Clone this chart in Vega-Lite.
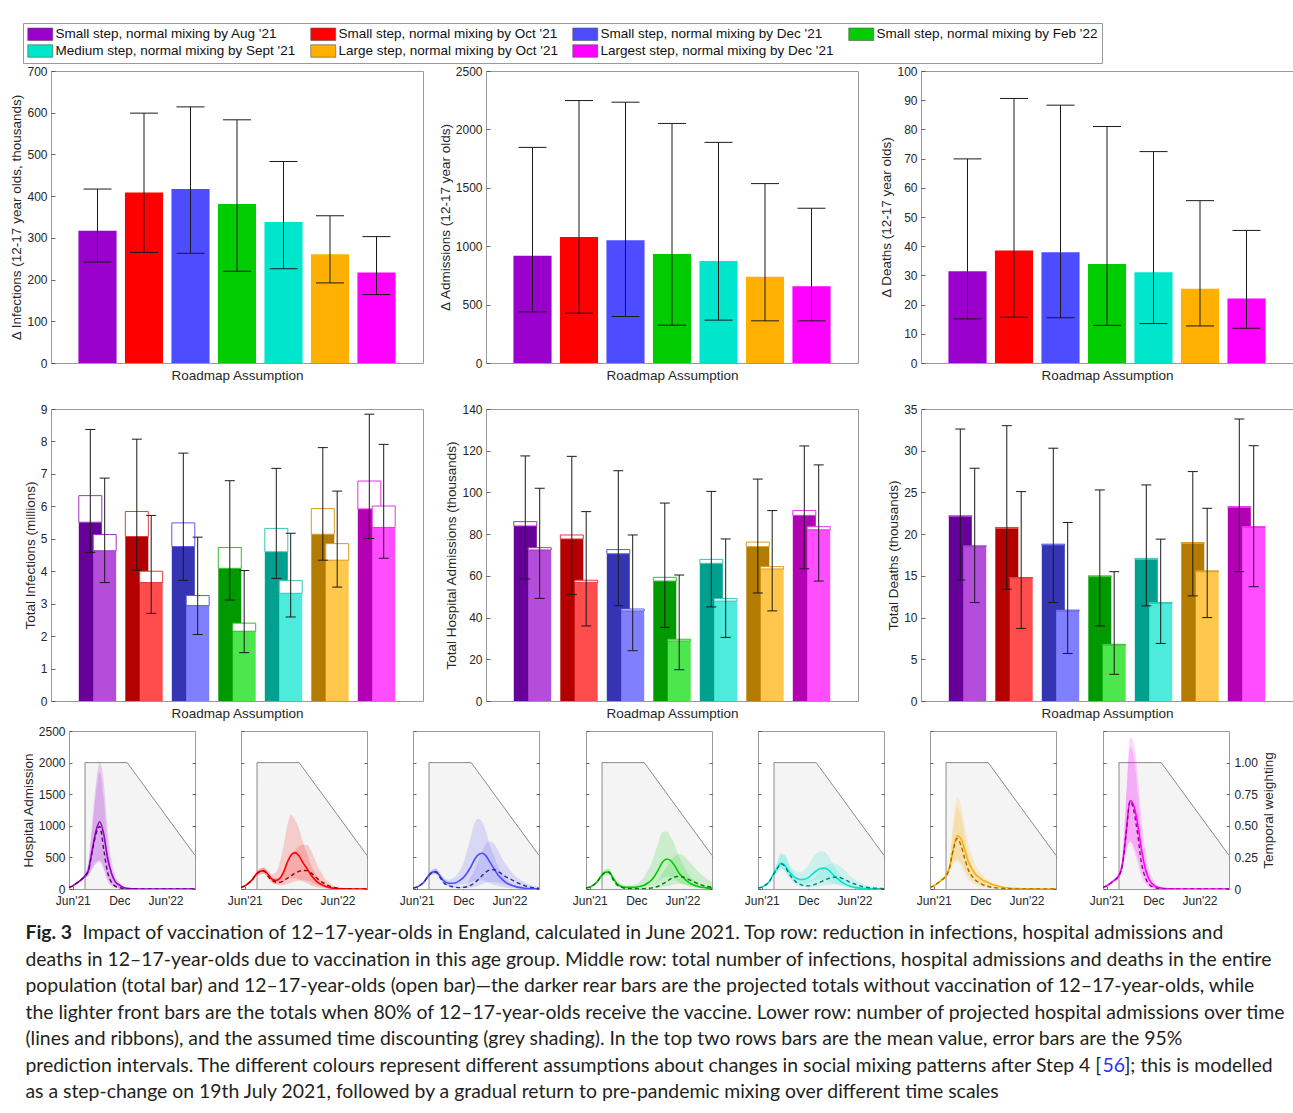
{
"$schema": "https://vega.github.io/schema/vega-lite/v6.json",
"padding": {"left": 9, "top": 22, "right": 0, "bottom": 0},
"background": "white",
"spacing": 0,
"config": {
  "font": "Liberation Sans",
  "view": {"stroke": "#9a9a9a", "strokeWidth": 1},
  "axis": {"domain": false, "grid": false, "ticks": true, "tickSize": -4, "tickColor": "#444444", "tickWidth": 0.8, "labelPadding": 8, "labelOverlap": false, "labelBound": false, "minExtent": 0, "titlePadding": 3, "labelFont": "Liberation Sans", "labelFontSize": 12, "labelColor": "#262626", "titleFont": "Liberation Sans", "titleFontSize": 13.5, "titleFontWeight": "normal", "titleColor": "#262626"}
},
"resolve": {"scale": {"color": "independent", "stroke": "independent", "fill": "independent"}},
"datasets": {
  "top": [
    {"metric":"inf","scn":"Small step, normal mixing by Aug '21","m":317,"lo":242,"hi":417},
    {"metric":"inf","scn":"Small step, normal mixing by Oct '21","m":409,"lo":265,"hi":599},
    {"metric":"inf","scn":"Small step, normal mixing by Dec '21","m":417,"lo":263,"hi":614},
    {"metric":"inf","scn":"Small step, normal mixing by Feb '22","m":381,"lo":220,"hi":583},
    {"metric":"inf","scn":"Medium step, normal mixing by Sept '21","m":338,"lo":226,"hi":483},
    {"metric":"inf","scn":"Large step, normal mixing by Oct '21","m":261,"lo":192,"hi":353},
    {"metric":"inf","scn":"Largest step, normal mixing by Dec '21","m":217,"lo":164,"hi":303},
    {"metric":"adm","scn":"Small step, normal mixing by Aug '21","m":919,"lo":438,"hi":1846},
    {"metric":"adm","scn":"Small step, normal mixing by Oct '21","m":1078,"lo":427,"hi":2247},
    {"metric":"adm","scn":"Small step, normal mixing by Dec '21","m":1052,"lo":398,"hi":2233},
    {"metric":"adm","scn":"Small step, normal mixing by Feb '22","m":933,"lo":324,"hi":2051},
    {"metric":"adm","scn":"Medium step, normal mixing by Sept '21","m":873,"lo":367,"hi":1889},
    {"metric":"adm","scn":"Large step, normal mixing by Oct '21","m":739,"lo":361,"hi":1536},
    {"metric":"adm","scn":"Largest step, normal mixing by Dec '21","m":657,"lo":361,"hi":1325},
    {"metric":"dth","scn":"Small step, normal mixing by Aug '21","m":31.4,"lo":15.1,"hi":69.9},
    {"metric":"dth","scn":"Small step, normal mixing by Oct '21","m":38.5,"lo":15.7,"hi":90.6},
    {"metric":"dth","scn":"Small step, normal mixing by Dec '21","m":37.9,"lo":15.5,"hi":88.3},
    {"metric":"dth","scn":"Small step, normal mixing by Feb '22","m":33.9,"lo":12.9,"hi":81.0},
    {"metric":"dth","scn":"Medium step, normal mixing by Sept '21","m":31.1,"lo":13.5,"hi":72.4},
    {"metric":"dth","scn":"Large step, normal mixing by Oct '21","m":25.4,"lo":12.7,"hi":55.6},
    {"metric":"dth","scn":"Largest step, normal mixing by Dec '21","m":22.1,"lo":11.9,"hi":45.4}
  ],
  "mid": [
    {"metric":"inf","ver":"without","scn":"Small step, normal mixing by Aug '21","m":5.51,"o":6.33,"lo":4.58,"hi":8.37},
    {"metric":"inf","ver":"with","scn":"Small step, normal mixing by Aug '21","m":4.63,"o":5.13,"lo":3.65,"hi":6.87},
    {"metric":"inf","ver":"without","scn":"Small step, normal mixing by Oct '21","m":5.07,"o":5.84,"lo":4.03,"hi":8.07},
    {"metric":"inf","ver":"with","scn":"Small step, normal mixing by Oct '21","m":3.65,"o":4.00,"lo":2.70,"hi":5.72},
    {"metric":"inf","ver":"without","scn":"Small step, normal mixing by Dec '21","m":4.76,"o":5.49,"lo":3.72,"hi":7.64},
    {"metric":"inf","ver":"with","scn":"Small step, normal mixing by Dec '21","m":2.94,"o":3.25,"lo":2.05,"hi":5.05},
    {"metric":"inf","ver":"without","scn":"Small step, normal mixing by Feb '22","m":4.09,"o":4.73,"lo":3.11,"hi":6.79},
    {"metric":"inf","ver":"with","scn":"Small step, normal mixing by Feb '22","m":2.15,"o":2.40,"lo":1.49,"hi":4.02},
    {"metric":"inf","ver":"without","scn":"Medium step, normal mixing by Sept '21","m":4.60,"o":5.32,"lo":3.78,"hi":7.17},
    {"metric":"inf","ver":"with","scn":"Medium step, normal mixing by Sept '21","m":3.32,"o":3.71,"lo":2.59,"hi":5.17},
    {"metric":"inf","ver":"without","scn":"Large step, normal mixing by Oct '21","m":5.14,"o":5.93,"lo":4.34,"hi":7.81},
    {"metric":"inf","ver":"with","scn":"Large step, normal mixing by Oct '21","m":4.34,"o":4.85,"lo":3.51,"hi":6.47},
    {"metric":"inf","ver":"without","scn":"Largest step, normal mixing by Dec '21","m":5.92,"o":6.78,"lo":5.01,"hi":8.84},
    {"metric":"inf","ver":"with","scn":"Largest step, normal mixing by Dec '21","m":5.35,"o":6.01,"lo":4.40,"hi":7.91},
    {"metric":"adm","ver":"without","scn":"Small step, normal mixing by Aug '21","m":83.9,"o":86.0,"lo":58.5,"hi":117.5},
    {"metric":"adm","ver":"with","scn":"Small step, normal mixing by Aug '21","m":72.4,"o":73.5,"lo":49.2,"hi":102.0},
    {"metric":"adm","ver":"without","scn":"Small step, normal mixing by Oct '21","m":77.7,"o":79.6,"lo":51.0,"hi":117.3},
    {"metric":"adm","ver":"with","scn":"Small step, normal mixing by Oct '21","m":56.9,"o":57.9,"lo":36.0,"hi":90.8},
    {"metric":"adm","ver":"without","scn":"Small step, normal mixing by Dec '21","m":70.6,"o":72.6,"lo":45.7,"hi":110.4},
    {"metric":"adm","ver":"with","scn":"Small step, normal mixing by Dec '21","m":43.2,"o":44.1,"lo":24.1,"hi":79.6},
    {"metric":"adm","ver":"without","scn":"Small step, normal mixing by Feb '22","m":57.5,"o":59.3,"lo":35.3,"hi":94.9},
    {"metric":"adm","ver":"with","scn":"Small step, normal mixing by Feb '22","m":28.8,"o":29.6,"lo":15.0,"hi":60.4},
    {"metric":"adm","ver":"without","scn":"Medium step, normal mixing by Sept '21","m":66.0,"o":67.9,"lo":45.1,"hi":100.5},
    {"metric":"adm","ver":"with","scn":"Medium step, normal mixing by Sept '21","m":47.9,"o":49.1,"lo":30.5,"hi":77.7},
    {"metric":"adm","ver":"without","scn":"Large step, normal mixing by Oct '21","m":74.0,"o":76.2,"lo":51.8,"hi":106.4},
    {"metric":"adm","ver":"with","scn":"Large step, normal mixing by Oct '21","m":63.3,"o":64.4,"lo":43.2,"hi":91.3},
    {"metric":"adm","ver":"without","scn":"Largest step, normal mixing by Dec '21","m":89.0,"o":91.3,"lo":63.4,"hi":122.3},
    {"metric":"adm","ver":"with","scn":"Largest step, normal mixing by Dec '21","m":82.1,"o":83.6,"lo":57.5,"hi":113.2},
    {"metric":"dth","ver":"without","scn":"Small step, normal mixing by Aug '21","m":22.1,"o":22.2,"lo":14.5,"hi":32.6},
    {"metric":"dth","ver":"with","scn":"Small step, normal mixing by Aug '21","m":18.5,"o":18.6,"lo":11.8,"hi":27.9},
    {"metric":"dth","ver":"without","scn":"Small step, normal mixing by Oct '21","m":20.7,"o":20.8,"lo":13.4,"hi":33.0},
    {"metric":"dth","ver":"with","scn":"Small step, normal mixing by Oct '21","m":14.7,"o":14.8,"lo":8.7,"hi":25.1},
    {"metric":"dth","ver":"without","scn":"Small step, normal mixing by Dec '21","m":18.7,"o":18.8,"lo":11.8,"hi":30.3},
    {"metric":"dth","ver":"with","scn":"Small step, normal mixing by Dec '21","m":10.8,"o":10.9,"lo":5.7,"hi":21.4},
    {"metric":"dth","ver":"without","scn":"Small step, normal mixing by Feb '22","m":14.9,"o":15.0,"lo":9.0,"hi":25.3},
    {"metric":"dth","ver":"with","scn":"Small step, normal mixing by Feb '22","m":6.7,"o":6.8,"lo":3.2,"hi":15.5},
    {"metric":"dth","ver":"without","scn":"Medium step, normal mixing by Sept '21","m":17.0,"o":17.1,"lo":11.4,"hi":25.9},
    {"metric":"dth","ver":"with","scn":"Medium step, normal mixing by Sept '21","m":11.7,"o":11.8,"lo":6.9,"hi":19.4},
    {"metric":"dth","ver":"without","scn":"Large step, normal mixing by Oct '21","m":18.9,"o":19.0,"lo":12.6,"hi":27.5},
    {"metric":"dth","ver":"with","scn":"Large step, normal mixing by Oct '21","m":15.5,"o":15.6,"lo":10.0,"hi":23.1},
    {"metric":"dth","ver":"without","scn":"Largest step, normal mixing by Dec '21","m":23.2,"o":23.3,"lo":15.5,"hi":33.8},
    {"metric":"dth","ver":"with","scn":"Largest step, normal mixing by Dec '21","m":20.8,"o":20.9,"lo":13.7,"hi":30.6}
  ],
  "wt": [
    {"k":1,"t":"2021-07-19","w":0},
    {"k":2,"t":"2021-07-19","w":1},
    {"k":3,"t":"2022-01-01","w":1},
    {"k":4,"t":"2022-09-25","w":0.266}
  ],
  "ts": [
    {"p":1,"t":"2021-05-17","s":27,"d":27,"sl":22,"sh":32,"dl":22,"dh":32},
    {"p":1,"t":"2021-06-01","s":50,"d":50,"sl":42,"sh":58,"dl":42,"dh":58},
    {"p":1,"t":"2021-06-15","s":90,"d":90,"sl":78,"sh":102,"dl":78,"dh":102},
    {"p":1,"t":"2021-07-01","s":135,"d":135,"sl":118,"sh":152,"dl":118,"dh":152},
    {"p":1,"t":"2021-07-15","s":190,"d":188,"sl":165,"sh":215,"dl":165,"dh":212},
    {"p":1,"t":"2021-08-01","s":290,"d":285,"sl":210,"sh":420,"dl":205,"dh":400},
    {"p":1,"t":"2021-08-15","s":585,"d":560,"sl":330,"sh":1000,"dl":300,"dh":900},
    {"p":1,"t":"2021-09-01","s":930,"d":880,"sl":430,"sh":1700,"dl":400,"dh":1550},
    {"p":1,"t":"2021-09-15","s":1065,"d":990,"sl":450,"sh":2000,"dl":430,"dh":1850},
    {"p":1,"t":"2021-10-01","s":860,"d":620,"sl":350,"sh":1700,"dl":300,"dh":1400},
    {"p":1,"t":"2021-10-15","s":510,"d":280,"sl":180,"sh":1000,"dl":130,"dh":700},
    {"p":1,"t":"2021-11-01","s":240,"d":100,"sl":70,"sh":450,"dl":40,"dh":280},
    {"p":1,"t":"2021-11-15","s":117,"d":45,"sl":30,"sh":220,"dl":18,"dh":120},
    {"p":1,"t":"2021-12-01","s":64,"d":22,"sl":15,"sh":110,"dl":8,"dh":60},
    {"p":1,"t":"2021-12-15","s":27,"d":9,"sl":5,"sh":50,"dl":3,"dh":25},
    {"p":1,"t":"2022-01-01","s":10,"d":4,"sl":2,"sh":20,"dl":1,"dh":10},
    {"p":1,"t":"2022-01-15","s":5,"d":2,"sl":1,"sh":10,"dl":0,"dh":5},
    {"p":1,"t":"2022-02-01","s":3,"d":1,"sl":0,"sh":6,"dl":0,"dh":3},
    {"p":1,"t":"2022-02-15","s":1,"d":0,"sl":0,"sh":3,"dl":0,"dh":1},
    {"p":1,"t":"2022-03-01","s":0,"d":0,"sl":0,"sh":1,"dl":0,"dh":0},
    {"p":1,"t":"2022-03-15","s":0,"d":0,"sl":0,"sh":0,"dl":0,"dh":0},
    {"p":1,"t":"2022-04-01","s":0,"d":0,"sl":0,"sh":0,"dl":0,"dh":0},
    {"p":1,"t":"2022-04-15","s":0,"d":0,"sl":0,"sh":0,"dl":0,"dh":0},
    {"p":1,"t":"2022-05-01","s":0,"d":0,"sl":0,"sh":0,"dl":0,"dh":0},
    {"p":1,"t":"2022-05-15","s":0,"d":0,"sl":0,"sh":0,"dl":0,"dh":0},
    {"p":1,"t":"2022-06-01","s":0,"d":0,"sl":0,"sh":0,"dl":0,"dh":0},
    {"p":1,"t":"2022-07-01","s":0,"d":0,"sl":0,"sh":0,"dl":0,"dh":0},
    {"p":1,"t":"2022-08-01","s":0,"d":0,"sl":0,"sh":0,"dl":0,"dh":0},
    {"p":1,"t":"2022-09-01","s":0,"d":0,"sl":0,"sh":0,"dl":0,"dh":0},
    {"p":1,"t":"2022-09-25","s":0,"d":0,"sl":0,"sh":0,"dl":0,"dh":0},
    {"p":2,"t":"2021-05-17","s":27,"d":27,"sl":22,"sh":32,"dl":22,"dh":32},
    {"p":2,"t":"2021-06-01","s":50,"d":50,"sl":42,"sh":58,"dl":42,"dh":58},
    {"p":2,"t":"2021-06-15","s":90,"d":90,"sl":75,"sh":105,"dl":75,"dh":105},
    {"p":2,"t":"2021-07-01","s":150,"d":150,"sl":125,"sh":175,"dl":125,"dh":175},
    {"p":2,"t":"2021-07-15","s":230,"d":228,"sl":195,"sh":265,"dl":195,"dh":262},
    {"p":2,"t":"2021-08-01","s":280,"d":278,"sl":235,"sh":330,"dl":235,"dh":325},
    {"p":2,"t":"2021-08-15","s":290,"d":285,"sl":240,"sh":345,"dl":238,"dh":340},
    {"p":2,"t":"2021-09-01","s":230,"d":200,"sl":180,"sh":290,"dl":160,"dh":250},
    {"p":2,"t":"2021-09-15","s":160,"d":140,"sl":110,"sh":230,"dl":100,"dh":190},
    {"p":2,"t":"2021-10-01","s":135,"d":110,"sl":80,"sh":260,"dl":70,"dh":170},
    {"p":2,"t":"2021-10-15","s":160,"d":105,"sl":80,"sh":400,"dl":60,"dh":180},
    {"p":2,"t":"2021-11-01","s":270,"d":130,"sl":110,"sh":700,"dl":60,"dh":300},
    {"p":2,"t":"2021-11-15","s":420,"d":170,"sl":150,"sh":1000,"dl":80,"dh":400},
    {"p":2,"t":"2021-12-01","s":540,"d":210,"sl":170,"sh":1180,"dl":100,"dh":500},
    {"p":2,"t":"2021-12-15","s":575,"d":250,"sl":170,"sh":1100,"dl":120,"dh":600},
    {"p":2,"t":"2022-01-01","s":520,"d":280,"sl":150,"sh":950,"dl":130,"dh":680},
    {"p":2,"t":"2022-01-15","s":420,"d":293,"sl":120,"sh":750,"dl":140,"dh":700},
    {"p":2,"t":"2022-02-01","s":320,"d":290,"sl":90,"sh":560,"dl":130,"dh":700},
    {"p":2,"t":"2022-02-15","s":230,"d":260,"sl":60,"sh":400,"dl":110,"dh":620},
    {"p":2,"t":"2022-03-01","s":160,"d":210,"sl":40,"sh":280,"dl":80,"dh":500},
    {"p":2,"t":"2022-03-15","s":105,"d":160,"sl":25,"sh":180,"dl":55,"dh":360},
    {"p":2,"t":"2022-04-01","s":65,"d":110,"sl":15,"sh":120,"dl":35,"dh":240},
    {"p":2,"t":"2022-04-15","s":40,"d":75,"sl":8,"sh":70,"dl":20,"dh":150},
    {"p":2,"t":"2022-05-01","s":22,"d":45,"sl":4,"sh":40,"dl":10,"dh":90},
    {"p":2,"t":"2022-05-15","s":12,"d":28,"sl":2,"sh":20,"dl":5,"dh":50},
    {"p":2,"t":"2022-06-01","s":6,"d":16,"sl":1,"sh":10,"dl":3,"dh":25},
    {"p":2,"t":"2022-07-01","s":2,"d":5,"sl":0,"sh":4,"dl":1,"dh":9},
    {"p":2,"t":"2022-08-01","s":1,"d":2,"sl":0,"sh":2,"dl":0,"dh":4},
    {"p":2,"t":"2022-09-01","s":0,"d":1,"sl":0,"sh":1,"dl":0,"dh":2},
    {"p":2,"t":"2022-09-25","s":0,"d":0,"sl":0,"sh":0,"dl":0,"dh":1},
    {"p":3,"t":"2021-05-17","s":16,"d":16,"sl":13,"sh":19,"dl":13,"dh":19},
    {"p":3,"t":"2021-06-01","s":30,"d":30,"sl":25,"sh":35,"dl":25,"dh":35},
    {"p":3,"t":"2021-06-15","s":60,"d":60,"sl":50,"sh":70,"dl":50,"dh":70},
    {"p":3,"t":"2021-07-01","s":120,"d":120,"sl":100,"sh":140,"dl":100,"dh":140},
    {"p":3,"t":"2021-07-15","s":200,"d":200,"sl":170,"sh":230,"dl":170,"dh":230},
    {"p":3,"t":"2021-08-01","s":265,"d":262,"sl":230,"sh":310,"dl":228,"dh":305},
    {"p":3,"t":"2021-08-15","s":275,"d":270,"sl":240,"sh":330,"dl":235,"dh":320},
    {"p":3,"t":"2021-09-01","s":200,"d":180,"sl":170,"sh":250,"dl":150,"dh":220},
    {"p":3,"t":"2021-09-15","s":130,"d":100,"sl":100,"sh":180,"dl":75,"dh":140},
    {"p":3,"t":"2021-10-01","s":95,"d":60,"sl":60,"sh":150,"dl":40,"dh":90},
    {"p":3,"t":"2021-10-15","s":90,"d":40,"sl":50,"sh":160,"dl":25,"dh":65},
    {"p":3,"t":"2021-11-01","s":100,"d":28,"sl":50,"sh":200,"dl":15,"dh":50},
    {"p":3,"t":"2021-11-15","s":130,"d":22,"sl":60,"sh":280,"dl":10,"dh":45},
    {"p":3,"t":"2021-12-01","s":180,"d":25,"sl":70,"sh":400,"dl":12,"dh":55},
    {"p":3,"t":"2021-12-15","s":250,"d":35,"sl":90,"sh":600,"dl":15,"dh":90},
    {"p":3,"t":"2022-01-01","s":360,"d":60,"sl":110,"sh":850,"dl":20,"dh":200},
    {"p":3,"t":"2022-01-15","s":470,"d":100,"sl":130,"sh":1050,"dl":35,"dh":320},
    {"p":3,"t":"2022-02-01","s":550,"d":160,"sl":140,"sh":1110,"dl":60,"dh":480},
    {"p":3,"t":"2022-02-15","s":565,"d":220,"sl":140,"sh":1050,"dl":80,"dh":620},
    {"p":3,"t":"2022-03-01","s":520,"d":270,"sl":120,"sh":900,"dl":100,"dh":720},
    {"p":3,"t":"2022-03-15","s":430,"d":300,"sl":90,"sh":700,"dl":110,"dh":750},
    {"p":3,"t":"2022-04-01","s":320,"d":305,"sl":70,"sh":520,"dl":110,"dh":720},
    {"p":3,"t":"2022-04-15","s":230,"d":280,"sl":50,"sh":380,"dl":100,"dh":620},
    {"p":3,"t":"2022-05-01","s":160,"d":240,"sl":35,"sh":260,"dl":85,"dh":500},
    {"p":3,"t":"2022-05-15","s":110,"d":200,"sl":22,"sh":170,"dl":70,"dh":400},
    {"p":3,"t":"2022-06-01","s":70,"d":165,"sl":14,"sh":110,"dl":55,"dh":310},
    {"p":3,"t":"2022-07-01","s":30,"d":100,"sl":5,"sh":50,"dl":30,"dh":180},
    {"p":3,"t":"2022-08-01","s":12,"d":50,"sl":2,"sh":20,"dl":15,"dh":100},
    {"p":3,"t":"2022-09-01","s":5,"d":22,"sl":1,"sh":8,"dl":7,"dh":55},
    {"p":3,"t":"2022-09-25","s":3,"d":12,"sl":0,"sh":5,"dl":4,"dh":35},
    {"p":4,"t":"2021-05-17","s":16,"d":16,"sl":13,"sh":19,"dl":13,"dh":19},
    {"p":4,"t":"2021-06-01","s":30,"d":30,"sl":25,"sh":35,"dl":25,"dh":35},
    {"p":4,"t":"2021-06-15","s":60,"d":60,"sl":50,"sh":70,"dl":50,"dh":70},
    {"p":4,"t":"2021-07-01","s":120,"d":120,"sl":100,"sh":140,"dl":100,"dh":140},
    {"p":4,"t":"2021-07-15","s":200,"d":200,"sl":170,"sh":230,"dl":170,"dh":230},
    {"p":4,"t":"2021-08-01","s":265,"d":262,"sl":230,"sh":310,"dl":228,"dh":305},
    {"p":4,"t":"2021-08-15","s":270,"d":265,"sl":230,"sh":320,"dl":225,"dh":315},
    {"p":4,"t":"2021-09-01","s":170,"d":150,"sl":130,"sh":210,"dl":115,"dh":190},
    {"p":4,"t":"2021-09-15","s":90,"d":70,"sl":60,"sh":130,"dl":45,"dh":110},
    {"p":4,"t":"2021-10-01","s":45,"d":30,"sl":25,"sh":80,"dl":15,"dh":55},
    {"p":4,"t":"2021-10-15","s":30,"d":12,"sl":15,"sh":60,"dl":5,"dh":30},
    {"p":4,"t":"2021-11-01","s":25,"d":5,"sl":12,"sh":55,"dl":2,"dh":18},
    {"p":4,"t":"2021-11-15","s":25,"d":3,"sl":12,"sh":60,"dl":1,"dh":12},
    {"p":4,"t":"2021-12-01","s":30,"d":3,"sl":14,"sh":80,"dl":1,"dh":12},
    {"p":4,"t":"2021-12-15","s":40,"d":4,"sl":18,"sh":120,"dl":1,"dh":15},
    {"p":4,"t":"2022-01-01","s":60,"d":6,"sl":25,"sh":190,"dl":2,"dh":22},
    {"p":4,"t":"2022-01-15","s":95,"d":10,"sl":40,"sh":290,"dl":3,"dh":35},
    {"p":4,"t":"2022-02-01","s":150,"d":18,"sl":60,"sh":430,"dl":5,"dh":60},
    {"p":4,"t":"2022-02-15","s":230,"d":30,"sl":90,"sh":600,"dl":10,"dh":100},
    {"p":4,"t":"2022-03-01","s":330,"d":50,"sl":130,"sh":780,"dl":18,"dh":170},
    {"p":4,"t":"2022-03-15","s":430,"d":80,"sl":170,"sh":900,"dl":30,"dh":260},
    {"p":4,"t":"2022-04-01","s":475,"d":120,"sl":190,"sh":910,"dl":45,"dh":360},
    {"p":4,"t":"2022-04-15","s":450,"d":160,"sl":180,"sh":830,"dl":60,"dh":450},
    {"p":4,"t":"2022-05-01","s":370,"d":190,"sl":150,"sh":700,"dl":75,"dh":520},
    {"p":4,"t":"2022-05-15","s":270,"d":200,"sl":110,"sh":550,"dl":80,"dh":555},
    {"p":4,"t":"2022-06-01","s":190,"d":190,"sl":80,"sh":400,"dl":75,"dh":540},
    {"p":4,"t":"2022-07-01","s":90,"d":140,"sl":35,"sh":200,"dl":55,"dh":420},
    {"p":4,"t":"2022-08-01","s":40,"d":85,"sl":15,"sh":100,"dl":33,"dh":280},
    {"p":4,"t":"2022-09-01","s":18,"d":45,"sl":6,"sh":50,"dl":18,"dh":170},
    {"p":4,"t":"2022-09-25","s":10,"d":25,"sl":3,"sh":30,"dl":10,"dh":110},
    {"p":5,"t":"2021-05-17","s":16,"d":16,"sl":13,"sh":19,"dl":13,"dh":19},
    {"p":5,"t":"2021-06-01","s":30,"d":30,"sl":25,"sh":35,"dl":25,"dh":35},
    {"p":5,"t":"2021-06-15","s":60,"d":60,"sl":50,"sh":70,"dl":50,"dh":70},
    {"p":5,"t":"2021-07-01","s":120,"d":120,"sl":100,"sh":140,"dl":100,"dh":140},
    {"p":5,"t":"2021-07-15","s":220,"d":218,"sl":190,"sh":260,"dl":188,"dh":258},
    {"p":5,"t":"2021-08-01","s":330,"d":325,"sl":270,"sh":420,"dl":265,"dh":415},
    {"p":5,"t":"2021-08-15","s":405,"d":400,"sl":320,"sh":560,"dl":315,"dh":550},
    {"p":5,"t":"2021-09-01","s":370,"d":350,"sl":280,"sh":540,"dl":265,"dh":520},
    {"p":5,"t":"2021-09-15","s":280,"d":250,"sl":200,"sh":420,"dl":180,"dh":380},
    {"p":5,"t":"2021-10-01","s":210,"d":165,"sl":140,"sh":320,"dl":110,"dh":270},
    {"p":5,"t":"2021-10-15","s":170,"d":105,"sl":105,"sh":280,"dl":65,"dh":190},
    {"p":5,"t":"2021-11-01","s":150,"d":70,"sl":85,"sh":270,"dl":40,"dh":150},
    {"p":5,"t":"2021-11-15","s":155,"d":55,"sl":85,"sh":300,"dl":30,"dh":140},
    {"p":5,"t":"2021-12-01","s":180,"d":50,"sl":95,"sh":370,"dl":25,"dh":145},
    {"p":5,"t":"2021-12-15","s":230,"d":60,"sl":115,"sh":470,"dl":25,"dh":150},
    {"p":5,"t":"2022-01-01","s":285,"d":80,"sl":135,"sh":560,"dl":35,"dh":210},
    {"p":5,"t":"2022-01-15","s":320,"d":105,"sl":145,"sh":595,"dl":45,"dh":280},
    {"p":5,"t":"2022-02-01","s":330,"d":135,"sl":145,"sh":590,"dl":55,"dh":340},
    {"p":5,"t":"2022-02-15","s":310,"d":160,"sl":130,"sh":540,"dl":65,"dh":380},
    {"p":5,"t":"2022-03-01","s":260,"d":178,"sl":105,"sh":450,"dl":70,"dh":400},
    {"p":5,"t":"2022-03-15","s":200,"d":186,"sl":80,"sh":350,"dl":72,"dh":400},
    {"p":5,"t":"2022-04-01","s":145,"d":183,"sl":55,"sh":260,"dl":70,"dh":380},
    {"p":5,"t":"2022-04-15","s":100,"d":165,"sl":38,"sh":180,"dl":62,"dh":330},
    {"p":5,"t":"2022-05-01","s":65,"d":135,"sl":24,"sh":120,"dl":50,"dh":270},
    {"p":5,"t":"2022-05-15","s":42,"d":105,"sl":15,"sh":80,"dl":40,"dh":210},
    {"p":5,"t":"2022-06-01","s":26,"d":80,"sl":9,"sh":50,"dl":30,"dh":160},
    {"p":5,"t":"2022-07-01","s":10,"d":40,"sl":3,"sh":20,"dl":15,"dh":85},
    {"p":5,"t":"2022-08-01","s":4,"d":20,"sl":1,"sh":8,"dl":7,"dh":45},
    {"p":5,"t":"2022-09-01","s":2,"d":10,"sl":0,"sh":4,"dl":3,"dh":22},
    {"p":5,"t":"2022-09-25","s":1,"d":6,"sl":0,"sh":2,"dl":2,"dh":14},
    {"p":6,"t":"2021-05-17","s":27,"d":27,"sl":22,"sh":32,"dl":22,"dh":32},
    {"p":6,"t":"2021-06-01","s":50,"d":50,"sl":42,"sh":58,"dl":42,"dh":58},
    {"p":6,"t":"2021-06-15","s":90,"d":90,"sl":75,"sh":105,"dl":75,"dh":105},
    {"p":6,"t":"2021-07-01","s":140,"d":140,"sl":118,"sh":162,"dl":118,"dh":162},
    {"p":6,"t":"2021-07-15","s":190,"d":188,"sl":160,"sh":220,"dl":160,"dh":218},
    {"p":6,"t":"2021-08-01","s":330,"d":320,"sl":270,"sh":420,"dl":265,"dh":410},
    {"p":6,"t":"2021-08-15","s":600,"d":590,"sl":420,"sh":1000,"dl":400,"dh":900},
    {"p":6,"t":"2021-09-01","s":840,"d":800,"sl":470,"sh":1450,"dl":440,"dh":1300},
    {"p":6,"t":"2021-09-15","s":800,"d":700,"sl":420,"sh":1350,"dl":380,"dh":1150},
    {"p":6,"t":"2021-10-01","s":620,"d":480,"sl":300,"sh":1000,"dl":250,"dh":800},
    {"p":6,"t":"2021-10-15","s":430,"d":300,"sl":200,"sh":700,"dl":150,"dh":520},
    {"p":6,"t":"2021-11-01","s":300,"d":190,"sl":130,"sh":500,"dl":90,"dh":350},
    {"p":6,"t":"2021-11-15","s":220,"d":130,"sl":90,"sh":360,"dl":55,"dh":240},
    {"p":6,"t":"2021-12-01","s":170,"d":90,"sl":65,"sh":270,"dl":35,"dh":160},
    {"p":6,"t":"2021-12-15","s":130,"d":60,"sl":45,"sh":200,"dl":22,"dh":110},
    {"p":6,"t":"2022-01-01","s":100,"d":40,"sl":32,"sh":150,"dl":14,"dh":75},
    {"p":6,"t":"2022-01-15","s":75,"d":27,"sl":22,"sh":110,"dl":9,"dh":50},
    {"p":6,"t":"2022-02-01","s":55,"d":18,"sl":15,"sh":80,"dl":6,"dh":35},
    {"p":6,"t":"2022-02-15","s":40,"d":12,"sl":10,"sh":60,"dl":4,"dh":24},
    {"p":6,"t":"2022-03-01","s":28,"d":8,"sl":7,"sh":42,"dl":3,"dh":16},
    {"p":6,"t":"2022-03-15","s":20,"d":5,"sl":5,"sh":30,"dl":2,"dh":11},
    {"p":6,"t":"2022-04-01","s":13,"d":3,"sl":3,"sh":20,"dl":1,"dh":7},
    {"p":6,"t":"2022-04-15","s":9,"d":2,"sl":2,"sh":14,"dl":1,"dh":5},
    {"p":6,"t":"2022-05-01","s":6,"d":1,"sl":1,"sh":10,"dl":0,"dh":3},
    {"p":6,"t":"2022-05-15","s":4,"d":1,"sl":1,"sh":7,"dl":0,"dh":2},
    {"p":6,"t":"2022-06-01","s":3,"d":0,"sl":0,"sh":5,"dl":0,"dh":1},
    {"p":6,"t":"2022-07-01","s":2,"d":0,"sl":0,"sh":3,"dl":0,"dh":1},
    {"p":6,"t":"2022-08-01","s":1,"d":0,"sl":0,"sh":1,"dl":0,"dh":0},
    {"p":6,"t":"2022-09-01","s":0,"d":0,"sl":0,"sh":1,"dl":0,"dh":0},
    {"p":6,"t":"2022-09-25","s":0,"d":0,"sl":0,"sh":0,"dl":0,"dh":0},
    {"p":7,"t":"2021-05-17","s":27,"d":27,"sl":22,"sh":32,"dl":22,"dh":32},
    {"p":7,"t":"2021-06-01","s":50,"d":50,"sl":42,"sh":58,"dl":42,"dh":58},
    {"p":7,"t":"2021-06-15","s":90,"d":90,"sl":75,"sh":105,"dl":75,"dh":105},
    {"p":7,"t":"2021-07-01","s":140,"d":140,"sl":118,"sh":162,"dl":118,"dh":162},
    {"p":7,"t":"2021-07-15","s":190,"d":188,"sl":160,"sh":220,"dl":160,"dh":218},
    {"p":7,"t":"2021-08-01","s":380,"d":370,"sl":300,"sh":480,"dl":295,"dh":470},
    {"p":7,"t":"2021-08-15","s":850,"d":840,"sl":600,"sh":1400,"dl":580,"dh":1350},
    {"p":7,"t":"2021-09-01","s":1400,"d":1390,"sl":750,"sh":2400,"dl":740,"dh":2250},
    {"p":7,"t":"2021-09-15","s":1320,"d":1240,"sl":680,"sh":2300,"dl":620,"dh":2100},
    {"p":7,"t":"2021-10-01","s":1020,"d":850,"sl":500,"sh":1800,"dl":400,"dh":1500},
    {"p":7,"t":"2021-10-15","s":640,"d":420,"sl":300,"sh":1150,"dl":200,"dh":800},
    {"p":7,"t":"2021-11-01","s":300,"d":170,"sl":130,"sh":580,"dl":75,"dh":350},
    {"p":7,"t":"2021-11-15","s":150,"d":70,"sl":60,"sh":300,"dl":28,"dh":150},
    {"p":7,"t":"2021-12-01","s":65,"d":30,"sl":25,"sh":140,"dl":11,"dh":65},
    {"p":7,"t":"2021-12-15","s":30,"d":13,"sl":12,"sh":65,"dl":5,"dh":28},
    {"p":7,"t":"2022-01-01","s":15,"d":6,"sl":5,"sh":32,"dl":2,"dh":12},
    {"p":7,"t":"2022-01-15","s":8,"d":3,"sl":2,"sh":16,"dl":1,"dh":5},
    {"p":7,"t":"2022-02-01","s":4,"d":1,"sl":1,"sh":8,"dl":0,"dh":2},
    {"p":7,"t":"2022-02-15","s":2,"d":0,"sl":0,"sh":4,"dl":0,"dh":1},
    {"p":7,"t":"2022-03-01","s":1,"d":0,"sl":0,"sh":2,"dl":0,"dh":0},
    {"p":7,"t":"2022-03-15","s":0,"d":0,"sl":0,"sh":1,"dl":0,"dh":0},
    {"p":7,"t":"2022-04-01","s":0,"d":0,"sl":0,"sh":0,"dl":0,"dh":0},
    {"p":7,"t":"2022-04-15","s":0,"d":0,"sl":0,"sh":0,"dl":0,"dh":0},
    {"p":7,"t":"2022-05-01","s":0,"d":0,"sl":0,"sh":0,"dl":0,"dh":0},
    {"p":7,"t":"2022-05-15","s":0,"d":0,"sl":0,"sh":0,"dl":0,"dh":0},
    {"p":7,"t":"2022-06-01","s":0,"d":0,"sl":0,"sh":0,"dl":0,"dh":0},
    {"p":7,"t":"2022-07-01","s":0,"d":0,"sl":0,"sh":0,"dl":0,"dh":0},
    {"p":7,"t":"2022-08-01","s":0,"d":0,"sl":0,"sh":0,"dl":0,"dh":0},
    {"p":7,"t":"2022-09-01","s":0,"d":0,"sl":0,"sh":0,"dl":0,"dh":0},
    {"p":7,"t":"2022-09-25","s":0,"d":0,"sl":0,"sh":0,"dl":0,"dh":0}
  ],
  "cap": [
    {"line":1,"part":"f","t":"Fig. 3"},
    {"line":1,"part":"b1","t":"Impact of vaccination of 12–17-year-olds in England, calculated in June 2021. Top row: reduction in infections, hospital admissions and"},
    {"line":2,"part":"b","t":"deaths in 12–17-year-olds due to vaccination in this age group. Middle row: total number of infections, hospital admissions and deaths in the entire"},
    {"line":3,"part":"b","t":"population (total bar) and 12–17-year-olds (open bar)—the darker rear bars are the projected totals without vaccination of 12–17-year-olds, while"},
    {"line":4,"part":"b","t":"the lighter front bars are the totals when 80% of 12–17-year-olds receive the vaccine. Lower row: number of projected hospital admissions over time"},
    {"line":5,"part":"b","t":"(lines and ribbons), and the assumed time discounting (grey shading). In the top two rows bars are the mean value, error bars are the 95%"},
    {"line":6,"part":"b","t":"prediction intervals. The different colours represent different assumptions about changes in social mixing patterns after Step 4 ["},
    {"line":6,"part":"r","t":"56"},
    {"line":6,"part":"c","t":"]; this is modelled"},
    {"line":7,"part":"b","t":"as a step-change on 19th July 2021, followed by a gradual return to pre-pandemic mixing over different time scales"}
  ]
},
"vconcat": [
  {
    "width": 1, "height": 1, "view": {"stroke": null},
    "data": {"name": "top"},
    "transform": [{"filter": "false"}],
    "mark": {"type": "rect"},
    "encoding": {"color": {"field": "scn", "type": "nominal",
      "scale": {"domain": ["Small step, normal mixing by Aug '21","Small step, normal mixing by Oct '21","Small step, normal mixing by Dec '21","Small step, normal mixing by Feb '22","Medium step, normal mixing by Sept '21","Large step, normal mixing by Oct '21","Largest step, normal mixing by Dec '21"], "range": ["#9900cc","#ff0000","#4d4dff","#00cc00","#00e6cc","#ffb000","#ff00ff"]},
      "legend": {"title": null, "orient": "none", "legendX": -28, "legendY": 0, "columns": 4, "direction": "horizontal", "symbolType": "M-1,-1H3V1H-1Z", "symbolSize": 156.25, "symbolStrokeColor": "#555555", "symbolStrokeWidth": 0.6, "symbolOpacity": 1, "labelFont": "Liberation Sans", "labelFontSize": 13.5, "labelColor": "#111111", "labelLimit": 500, "labelOffset": 14.5, "columnPadding": 13, "rowPadding": 1, "padding": 4, "strokeColor": "#9a9a9a", "fillColor": "white"}}}
  },
  {
    "bounds": "flush", "spacing": 63,
    "hconcat": [
      {
        "width": 372, "height": 292,
        "data": {"name": "top"},
        "transform": [{"filter": {"field": "metric", "equal": "inf"}}],
        "encoding": {"x": {"field": "scn", "type": "nominal", "sort": null, "scale": {"paddingInner": 0.18, "paddingOuter": 0.59}, "axis": {"title": "Roadmap Assumption", "labels": false, "ticks": false, "titlePadding": 5}}},
        "layer": [
          {"mark": {"type": "bar"}, "encoding": {"y": {"field": "m", "type": "quantitative", "title": "Δ Infections (12-17 year olds, thousands)", "scale": {"domain": [0, 700], "nice": false}, "axis": {"values": [0,100,200,300,400,500,600,700], "tickCount": 30, "format": "d", "labelOverlap": false}}, "color": {"field": "scn", "type": "nominal", "sort": null, "scale": {"range": ["#9900cc","#ff0000","#4d4dff","#00cc00","#00e6cc","#ffb000","#ff00ff"]}, "legend": null}}},
          {"mark": {"type": "rule", "color": "#1a1a1a", "strokeWidth": 1}, "encoding": {"y": {"field": "lo", "type": "quantitative", "title": "Δ Infections (12-17 year olds, thousands)"}, "y2": {"field": "hi"}}},
          {"mark": {"type": "tick", "color": "#1a1a1a", "size": 28, "thickness": 1, "opacity": 1}, "encoding": {"y": {"field": "lo", "type": "quantitative", "title": "Δ Infections (12-17 year olds, thousands)"}}},
          {"mark": {"type": "tick", "color": "#1a1a1a", "size": 28, "thickness": 1, "opacity": 1}, "encoding": {"y": {"field": "hi", "type": "quantitative", "title": "Δ Infections (12-17 year olds, thousands)"}}}
        ]
      },
      {
        "width": 372, "height": 292,
        "data": {"name": "top"},
        "transform": [{"filter": {"field": "metric", "equal": "adm"}}],
        "encoding": {"x": {"field": "scn", "type": "nominal", "sort": null, "scale": {"paddingInner": 0.18, "paddingOuter": 0.59}, "axis": {"title": "Roadmap Assumption", "labels": false, "ticks": false, "titlePadding": 5}}},
        "layer": [
          {"mark": {"type": "bar"}, "encoding": {"y": {"field": "m", "type": "quantitative", "title": "Δ Admissions (12-17 year olds)", "scale": {"domain": [0, 2500], "nice": false}, "axis": {"values": [0,500,1000,1500,2000,2500], "tickCount": 30, "format": "d", "labelOverlap": false}}, "color": {"field": "scn", "type": "nominal", "sort": null, "scale": {"range": ["#9900cc","#ff0000","#4d4dff","#00cc00","#00e6cc","#ffb000","#ff00ff"]}, "legend": null}}},
          {"mark": {"type": "rule", "color": "#1a1a1a", "strokeWidth": 1}, "encoding": {"y": {"field": "lo", "type": "quantitative", "title": "Δ Admissions (12-17 year olds)"}, "y2": {"field": "hi"}}},
          {"mark": {"type": "tick", "color": "#1a1a1a", "size": 28, "thickness": 1, "opacity": 1}, "encoding": {"y": {"field": "lo", "type": "quantitative", "title": "Δ Admissions (12-17 year olds)"}}},
          {"mark": {"type": "tick", "color": "#1a1a1a", "size": 28, "thickness": 1, "opacity": 1}, "encoding": {"y": {"field": "hi", "type": "quantitative", "title": "Δ Admissions (12-17 year olds)"}}}
        ]
      },
      {
        "width": 372, "height": 292,
        "data": {"name": "top"},
        "transform": [{"filter": {"field": "metric", "equal": "dth"}}],
        "encoding": {"x": {"field": "scn", "type": "nominal", "sort": null, "scale": {"paddingInner": 0.18, "paddingOuter": 0.59}, "axis": {"title": "Roadmap Assumption", "labels": false, "ticks": false, "titlePadding": 5}}},
        "layer": [
          {"mark": {"type": "bar"}, "encoding": {"y": {"field": "m", "type": "quantitative", "title": "Δ Deaths (12-17 year olds)", "scale": {"domain": [0, 100], "nice": false}, "axis": {"values": [0,10,20,30,40,50,60,70,80,90,100], "tickCount": 30, "format": "d", "labelOverlap": false}}, "color": {"field": "scn", "type": "nominal", "sort": null, "scale": {"range": ["#9900cc","#ff0000","#4d4dff","#00cc00","#00e6cc","#ffb000","#ff00ff"]}, "legend": null}}},
          {"mark": {"type": "rule", "color": "#1a1a1a", "strokeWidth": 1}, "encoding": {"y": {"field": "lo", "type": "quantitative", "title": "Δ Deaths (12-17 year olds)"}, "y2": {"field": "hi"}}},
          {"mark": {"type": "tick", "color": "#1a1a1a", "size": 28, "thickness": 1, "opacity": 1}, "encoding": {"y": {"field": "lo", "type": "quantitative", "title": "Δ Deaths (12-17 year olds)"}}},
          {"mark": {"type": "tick", "color": "#1a1a1a", "size": 28, "thickness": 1, "opacity": 1}, "encoding": {"y": {"field": "hi", "type": "quantitative", "title": "Δ Deaths (12-17 year olds)"}}}
        ]
      }
    ]
  },
  {"width": 1, "height": 20, "view": {"stroke": null}, "data": {"values": []}, "mark": "point"},
  {
    "bounds": "flush", "spacing": 63,
    "hconcat": [
      {
        "width": 372, "height": 292,
        "data": {"name": "mid"},
        "transform": [{"filter": {"field": "metric", "equal": "inf"}}],
        "encoding": {"x": {"field": "scn", "type": "nominal", "sort": null, "scale": {"paddingInner": 0.18, "paddingOuter": 0.59}, "axis": {"title": "Roadmap Assumption", "labels": false, "ticks": false, "titlePadding": 5}}},
        "layer": [
          {"transform": [{"filter": {"field": "ver", "equal": "without"}}], "mark": {"type": "bar", "width": 23, "xOffset": -7.2}, "encoding": {"y": {"field": "m", "type": "quantitative", "title": "Total Infections (millions)", "scale": {"domain": [0, 9], "nice": false}, "axis": {"values": [0,1,2,3,4,5,6,7,8,9], "tickCount": 30, "format": "d", "labelOverlap": false}}, "color": {"field": "scn", "type": "nominal", "sort": null, "scale": {"range": ["#660099","#b30000","#3535b3","#009900","#00a08f","#b37b00","#b300b3"]}, "legend": null}}},
          {"transform": [{"filter": {"field": "ver", "equal": "without"}}], "mark": {"type": "bar", "width": 23, "xOffset": -7.2, "fill": "white", "strokeWidth": 1}, "encoding": {"y": {"field": "o", "type": "quantitative", "title": "Total Infections (millions)"}, "y2": {"field": "m"}, "stroke": {"field": "scn", "type": "nominal", "sort": null, "scale": {"range": ["#9d33cc","#e03c3c","#5a5ae6","#33bb33","#33c7b8","#d99a1a","#e633e6"]}, "legend": null}}},
          {"transform": [{"filter": {"field": "ver", "equal": "with"}}], "mark": {"type": "bar", "width": 23, "xOffset": 7.2}, "encoding": {"y": {"field": "m", "type": "quantitative", "title": "Total Infections (millions)"}, "fill": {"field": "scn", "type": "nominal", "sort": null, "scale": {"range": ["#b54ddb","#ff4d4d","#8080ff","#4de64d","#4debdb","#ffc84d","#ff4dff"]}, "legend": null}}},
          {"transform": [{"filter": {"field": "ver", "equal": "with"}}], "mark": {"type": "bar", "width": 23, "xOffset": 7.2, "fill": "white", "strokeWidth": 1}, "encoding": {"y": {"field": "o", "type": "quantitative", "title": "Total Infections (millions)"}, "y2": {"field": "m"}, "stroke": {"field": "scn", "type": "nominal", "sort": null, "legend": null}}},
          {"transform": [{"filter": {"field": "ver", "equal": "without"}}], "mark": {"type": "rule", "color": "#1a1a1a", "strokeWidth": 1, "xOffset": -7.2}, "encoding": {"y": {"field": "lo", "type": "quantitative", "title": "Total Infections (millions)"}, "y2": {"field": "hi"}}},
          {"transform": [{"filter": {"field": "ver", "equal": "with"}}], "mark": {"type": "rule", "color": "#1a1a1a", "strokeWidth": 1, "xOffset": 7.2}, "encoding": {"y": {"field": "lo", "type": "quantitative", "title": "Total Infections (millions)"}, "y2": {"field": "hi"}}},
          {"transform": [{"filter": {"field": "ver", "equal": "without"}}], "mark": {"type": "tick", "color": "#1a1a1a", "size": 10, "thickness": 1, "opacity": 1, "xOffset": -7.2}, "encoding": {"y": {"field": "lo", "type": "quantitative", "title": "Total Infections (millions)"}}},
          {"transform": [{"filter": {"field": "ver", "equal": "without"}}], "mark": {"type": "tick", "color": "#1a1a1a", "size": 10, "thickness": 1, "opacity": 1, "xOffset": -7.2}, "encoding": {"y": {"field": "hi", "type": "quantitative", "title": "Total Infections (millions)"}}},
          {"transform": [{"filter": {"field": "ver", "equal": "with"}}], "mark": {"type": "tick", "color": "#1a1a1a", "size": 10, "thickness": 1, "opacity": 1, "xOffset": 7.2}, "encoding": {"y": {"field": "lo", "type": "quantitative", "title": "Total Infections (millions)"}}},
          {"transform": [{"filter": {"field": "ver", "equal": "with"}}], "mark": {"type": "tick", "color": "#1a1a1a", "size": 10, "thickness": 1, "opacity": 1, "xOffset": 7.2}, "encoding": {"y": {"field": "hi", "type": "quantitative", "title": "Total Infections (millions)"}}}
        ]
      },
      {
        "width": 372, "height": 292,
        "data": {"name": "mid"},
        "transform": [{"filter": {"field": "metric", "equal": "adm"}}],
        "encoding": {"x": {"field": "scn", "type": "nominal", "sort": null, "scale": {"paddingInner": 0.18, "paddingOuter": 0.59}, "axis": {"title": "Roadmap Assumption", "labels": false, "ticks": false, "titlePadding": 5}}},
        "layer": [
          {"transform": [{"filter": {"field": "ver", "equal": "without"}}], "mark": {"type": "bar", "width": 23, "xOffset": -7.2}, "encoding": {"y": {"field": "m", "type": "quantitative", "title": "Total Hospital Admissions (thousands)", "scale": {"domain": [0, 140], "nice": false}, "axis": {"values": [0,20,40,60,80,100,120,140], "tickCount": 30, "format": "d", "labelOverlap": false}}, "color": {"field": "scn", "type": "nominal", "sort": null, "scale": {"range": ["#660099","#b30000","#3535b3","#009900","#00a08f","#b37b00","#b300b3"]}, "legend": null}}},
          {"transform": [{"filter": {"field": "ver", "equal": "without"}}], "mark": {"type": "bar", "width": 23, "xOffset": -7.2, "fill": "white", "strokeWidth": 1}, "encoding": {"y": {"field": "o", "type": "quantitative", "title": "Total Hospital Admissions (thousands)"}, "y2": {"field": "m"}, "stroke": {"field": "scn", "type": "nominal", "sort": null, "scale": {"range": ["#9d33cc","#e03c3c","#5a5ae6","#33bb33","#33c7b8","#d99a1a","#e633e6"]}, "legend": null}}},
          {"transform": [{"filter": {"field": "ver", "equal": "with"}}], "mark": {"type": "bar", "width": 23, "xOffset": 7.2}, "encoding": {"y": {"field": "m", "type": "quantitative", "title": "Total Hospital Admissions (thousands)"}, "fill": {"field": "scn", "type": "nominal", "sort": null, "scale": {"range": ["#b54ddb","#ff4d4d","#8080ff","#4de64d","#4debdb","#ffc84d","#ff4dff"]}, "legend": null}}},
          {"transform": [{"filter": {"field": "ver", "equal": "with"}}], "mark": {"type": "bar", "width": 23, "xOffset": 7.2, "fill": "white", "strokeWidth": 1}, "encoding": {"y": {"field": "o", "type": "quantitative", "title": "Total Hospital Admissions (thousands)"}, "y2": {"field": "m"}, "stroke": {"field": "scn", "type": "nominal", "sort": null, "legend": null}}},
          {"transform": [{"filter": {"field": "ver", "equal": "without"}}], "mark": {"type": "rule", "color": "#1a1a1a", "strokeWidth": 1, "xOffset": -7.2}, "encoding": {"y": {"field": "lo", "type": "quantitative", "title": "Total Hospital Admissions (thousands)"}, "y2": {"field": "hi"}}},
          {"transform": [{"filter": {"field": "ver", "equal": "with"}}], "mark": {"type": "rule", "color": "#1a1a1a", "strokeWidth": 1, "xOffset": 7.2}, "encoding": {"y": {"field": "lo", "type": "quantitative", "title": "Total Hospital Admissions (thousands)"}, "y2": {"field": "hi"}}},
          {"transform": [{"filter": {"field": "ver", "equal": "without"}}], "mark": {"type": "tick", "color": "#1a1a1a", "size": 10, "thickness": 1, "opacity": 1, "xOffset": -7.2}, "encoding": {"y": {"field": "lo", "type": "quantitative", "title": "Total Hospital Admissions (thousands)"}}},
          {"transform": [{"filter": {"field": "ver", "equal": "without"}}], "mark": {"type": "tick", "color": "#1a1a1a", "size": 10, "thickness": 1, "opacity": 1, "xOffset": -7.2}, "encoding": {"y": {"field": "hi", "type": "quantitative", "title": "Total Hospital Admissions (thousands)"}}},
          {"transform": [{"filter": {"field": "ver", "equal": "with"}}], "mark": {"type": "tick", "color": "#1a1a1a", "size": 10, "thickness": 1, "opacity": 1, "xOffset": 7.2}, "encoding": {"y": {"field": "lo", "type": "quantitative", "title": "Total Hospital Admissions (thousands)"}}},
          {"transform": [{"filter": {"field": "ver", "equal": "with"}}], "mark": {"type": "tick", "color": "#1a1a1a", "size": 10, "thickness": 1, "opacity": 1, "xOffset": 7.2}, "encoding": {"y": {"field": "hi", "type": "quantitative", "title": "Total Hospital Admissions (thousands)"}}}
        ]
      },
      {
        "width": 372, "height": 292,
        "data": {"name": "mid"},
        "transform": [{"filter": {"field": "metric", "equal": "dth"}}],
        "encoding": {"x": {"field": "scn", "type": "nominal", "sort": null, "scale": {"paddingInner": 0.18, "paddingOuter": 0.59}, "axis": {"title": "Roadmap Assumption", "labels": false, "ticks": false, "titlePadding": 5}}},
        "layer": [
          {"transform": [{"filter": {"field": "ver", "equal": "without"}}], "mark": {"type": "bar", "width": 23, "xOffset": -7.2}, "encoding": {"y": {"field": "m", "type": "quantitative", "title": "Total Deaths (thousands)", "scale": {"domain": [0, 35], "nice": false}, "axis": {"values": [0,5,10,15,20,25,30,35], "tickCount": 30, "format": "d", "labelOverlap": false}}, "color": {"field": "scn", "type": "nominal", "sort": null, "scale": {"range": ["#660099","#b30000","#3535b3","#009900","#00a08f","#b37b00","#b300b3"]}, "legend": null}}},
          {"transform": [{"filter": {"field": "ver", "equal": "without"}}], "mark": {"type": "bar", "width": 23, "xOffset": -7.2, "fill": "white", "strokeWidth": 1}, "encoding": {"y": {"field": "o", "type": "quantitative", "title": "Total Deaths (thousands)"}, "y2": {"field": "m"}, "stroke": {"field": "scn", "type": "nominal", "sort": null, "scale": {"range": ["#9d33cc","#e03c3c","#5a5ae6","#33bb33","#33c7b8","#d99a1a","#e633e6"]}, "legend": null}}},
          {"transform": [{"filter": {"field": "ver", "equal": "with"}}], "mark": {"type": "bar", "width": 23, "xOffset": 7.2}, "encoding": {"y": {"field": "m", "type": "quantitative", "title": "Total Deaths (thousands)"}, "fill": {"field": "scn", "type": "nominal", "sort": null, "scale": {"range": ["#b54ddb","#ff4d4d","#8080ff","#4de64d","#4debdb","#ffc84d","#ff4dff"]}, "legend": null}}},
          {"transform": [{"filter": {"field": "ver", "equal": "with"}}], "mark": {"type": "bar", "width": 23, "xOffset": 7.2, "fill": "white", "strokeWidth": 1}, "encoding": {"y": {"field": "o", "type": "quantitative", "title": "Total Deaths (thousands)"}, "y2": {"field": "m"}, "stroke": {"field": "scn", "type": "nominal", "sort": null, "legend": null}}},
          {"transform": [{"filter": {"field": "ver", "equal": "without"}}], "mark": {"type": "rule", "color": "#1a1a1a", "strokeWidth": 1, "xOffset": -7.2}, "encoding": {"y": {"field": "lo", "type": "quantitative", "title": "Total Deaths (thousands)"}, "y2": {"field": "hi"}}},
          {"transform": [{"filter": {"field": "ver", "equal": "with"}}], "mark": {"type": "rule", "color": "#1a1a1a", "strokeWidth": 1, "xOffset": 7.2}, "encoding": {"y": {"field": "lo", "type": "quantitative", "title": "Total Deaths (thousands)"}, "y2": {"field": "hi"}}},
          {"transform": [{"filter": {"field": "ver", "equal": "without"}}], "mark": {"type": "tick", "color": "#1a1a1a", "size": 10, "thickness": 1, "opacity": 1, "xOffset": -7.2}, "encoding": {"y": {"field": "lo", "type": "quantitative", "title": "Total Deaths (thousands)"}}},
          {"transform": [{"filter": {"field": "ver", "equal": "without"}}], "mark": {"type": "tick", "color": "#1a1a1a", "size": 10, "thickness": 1, "opacity": 1, "xOffset": -7.2}, "encoding": {"y": {"field": "hi", "type": "quantitative", "title": "Total Deaths (thousands)"}}},
          {"transform": [{"filter": {"field": "ver", "equal": "with"}}], "mark": {"type": "tick", "color": "#1a1a1a", "size": 10, "thickness": 1, "opacity": 1, "xOffset": 7.2}, "encoding": {"y": {"field": "lo", "type": "quantitative", "title": "Total Deaths (thousands)"}}},
          {"transform": [{"filter": {"field": "ver", "equal": "with"}}], "mark": {"type": "tick", "color": "#1a1a1a", "size": 10, "thickness": 1, "opacity": 1, "xOffset": 7.2}, "encoding": {"y": {"field": "hi", "type": "quantitative", "title": "Total Deaths (thousands)"}}}
        ]
      }
    ]
  },
  {"width": 1, "height": 4, "view": {"stroke": null}, "data": {"values": []}, "mark": "point"},
  {
    "bounds": "flush", "spacing": 0,
    "hconcat": [
      {"width": 18, "height": 158, "view": {"stroke": null}, "data": {"values": []}, "mark": "point"},
      {
        "width": 126, "height": 158,
        "layer": [
          {"data": {"name": "wt"}, "layer": [
            {"mark": {"type": "area", "color": "#f4f4f4", "clip": true}, "encoding": {"x": {"field": "t", "type": "temporal", "scale": {"domain": [{"year":2021,"month":5,"date":17},{"year":2022,"month":9,"date":25}]}, "axis": {"values": [{"year":2021,"month":6,"date":1},{"year":2021,"month":12,"date":1},{"year":2022,"month":6,"date":1}], "tickCount": 30, "labelExpr": "month(datum.value) == 11 ? 'Dec' : timeFormat(datum.value, \"%b'%y\")", "title": null, "tickSize": -3, "labelPadding": 9, "labelFlush": false, "labelBound": false, "labelOverlap": false}}, "y": {"field": "w", "type": "quantitative", "title": null, "scale": {"domain": [0, 1.25], "nice": false}, "axis": {"orient": "right", "values": [0,0.25,0.5,0.75,1], "tickCount": 30, "labels": false, "tickSize": -3, "labelOverlap": false}}, "order": {"field": "k", "type": "quantitative"}}},
            {"mark": {"type": "line", "color": "#6e6e6e", "strokeWidth": 0.8, "clip": true}, "encoding": {"x": {"field": "t", "type": "temporal"}, "y": {"field": "w", "type": "quantitative", "title": null}, "order": {"field": "k", "type": "quantitative"}}}
          ]},
          {"data": {"name": "ts"}, "transform": [{"filter": "datum.p == 1"}], "layer": [
            {"mark": {"type": "area", "opacity": 0.16, "interpolate": "monotone", "clip": true}, "encoding": {"x": {"field": "t", "type": "temporal"}, "y": {"field": "sh", "type": "quantitative", "title": "Hospital Admission", "scale": {"domain": [0, 2500], "nice": false}, "axis": {"orient": "left", "values": [0,500,1000,1500,2000,2500], "tickCount": 30, "format": "d", "labelOverlap": false, "tickSize": -3, "labelPadding": 7}}, "y2": {"field": "sl"}, "color": {"datum": "Small step, normal mixing by Aug '21", "type": "nominal", "scale": {"domain": ["Small step, normal mixing by Aug '21","Small step, normal mixing by Oct '21","Small step, normal mixing by Dec '21","Small step, normal mixing by Feb '22","Medium step, normal mixing by Sept '21","Large step, normal mixing by Oct '21","Largest step, normal mixing by Dec '21"], "range": ["#9900cc","#ff0000","#4d4dff","#00cc00","#00e6cc","#ffb000","#ff00ff"]}, "legend": null}}},
            {"mark": {"type": "area", "opacity": 0.16, "interpolate": "monotone", "clip": true}, "encoding": {"x": {"field": "t", "type": "temporal"}, "y": {"field": "dh", "type": "quantitative", "title": "Hospital Admission"}, "y2": {"field": "dl"}, "color": {"datum": "Small step, normal mixing by Aug '21", "type": "nominal", "legend": null}}},
            {"mark": {"type": "line", "strokeWidth": 1.6, "interpolate": "monotone", "clip": true}, "encoding": {"x": {"field": "t", "type": "temporal"}, "y": {"field": "s", "type": "quantitative", "title": "Hospital Admission"}, "color": {"datum": "Small step, normal mixing by Aug '21", "type": "nominal", "legend": null}}},
            {"mark": {"type": "line", "strokeWidth": 1.4, "strokeDash": [4, 3], "interpolate": "monotone", "clip": true}, "encoding": {"x": {"field": "t", "type": "temporal"}, "y": {"field": "d", "type": "quantitative", "title": "Hospital Admission"}, "stroke": {"datum": "Small step, normal mixing by Aug '21", "type": "nominal", "scale": {"domain": ["Small step, normal mixing by Aug '21","Small step, normal mixing by Oct '21","Small step, normal mixing by Dec '21","Small step, normal mixing by Feb '22","Medium step, normal mixing by Sept '21","Large step, normal mixing by Oct '21","Largest step, normal mixing by Dec '21"], "range": ["#5c0080","#a60000","#2b2b99","#007a00","#00807a","#9a6a00","#990099"]}, "legend": null}}}
          ]}
        ],
        "resolve": {"scale": {"y": "independent"}}
      },
      {"width": 46, "height": 158, "view": {"stroke": null}, "data": {"values": []}, "mark": "point"},
      {
        "width": 126, "height": 158,
        "layer": [
          {"data": {"name": "wt"}, "layer": [
            {"mark": {"type": "area", "color": "#f4f4f4", "clip": true}, "encoding": {"x": {"field": "t", "type": "temporal", "scale": {"domain": [{"year":2021,"month":5,"date":17},{"year":2022,"month":9,"date":25}]}, "axis": {"values": [{"year":2021,"month":6,"date":1},{"year":2021,"month":12,"date":1},{"year":2022,"month":6,"date":1}], "tickCount": 30, "labelExpr": "month(datum.value) == 11 ? 'Dec' : timeFormat(datum.value, \"%b'%y\")", "title": null, "tickSize": -3, "labelPadding": 9, "labelFlush": false, "labelBound": false, "labelOverlap": false}}, "y": {"field": "w", "type": "quantitative", "title": null, "scale": {"domain": [0, 1.25], "nice": false}, "axis": {"orient": "right", "values": [0,0.25,0.5,0.75,1], "tickCount": 30, "labels": false, "tickSize": -3, "labelOverlap": false}}, "order": {"field": "k", "type": "quantitative"}}},
            {"mark": {"type": "line", "color": "#6e6e6e", "strokeWidth": 0.8, "clip": true}, "encoding": {"x": {"field": "t", "type": "temporal"}, "y": {"field": "w", "type": "quantitative", "title": null}, "order": {"field": "k", "type": "quantitative"}}}
          ]},
          {"data": {"name": "ts"}, "transform": [{"filter": "datum.p == 2"}], "layer": [
            {"mark": {"type": "area", "opacity": 0.16, "interpolate": "monotone", "clip": true}, "encoding": {"x": {"field": "t", "type": "temporal"}, "y": {"field": "sh", "type": "quantitative", "title": null, "scale": {"domain": [0, 2500], "nice": false}, "axis": {"orient": "left", "values": [0,500,1000,1500,2000,2500], "tickCount": 30, "labels": false, "tickSize": -3, "labelOverlap": false}}, "y2": {"field": "sl"}, "color": {"datum": "Small step, normal mixing by Oct '21", "type": "nominal", "scale": {"domain": ["Small step, normal mixing by Aug '21","Small step, normal mixing by Oct '21","Small step, normal mixing by Dec '21","Small step, normal mixing by Feb '22","Medium step, normal mixing by Sept '21","Large step, normal mixing by Oct '21","Largest step, normal mixing by Dec '21"], "range": ["#9900cc","#ff0000","#4d4dff","#00cc00","#00e6cc","#ffb000","#ff00ff"]}, "legend": null}}},
            {"mark": {"type": "area", "opacity": 0.16, "interpolate": "monotone", "clip": true}, "encoding": {"x": {"field": "t", "type": "temporal"}, "y": {"field": "dh", "type": "quantitative", "title": null}, "y2": {"field": "dl"}, "color": {"datum": "Small step, normal mixing by Oct '21", "type": "nominal", "legend": null}}},
            {"mark": {"type": "line", "strokeWidth": 1.6, "interpolate": "monotone", "clip": true}, "encoding": {"x": {"field": "t", "type": "temporal"}, "y": {"field": "s", "type": "quantitative", "title": null}, "color": {"datum": "Small step, normal mixing by Oct '21", "type": "nominal", "legend": null}}},
            {"mark": {"type": "line", "strokeWidth": 1.4, "strokeDash": [4, 3], "interpolate": "monotone", "clip": true}, "encoding": {"x": {"field": "t", "type": "temporal"}, "y": {"field": "d", "type": "quantitative", "title": null}, "stroke": {"datum": "Small step, normal mixing by Oct '21", "type": "nominal", "scale": {"domain": ["Small step, normal mixing by Aug '21","Small step, normal mixing by Oct '21","Small step, normal mixing by Dec '21","Small step, normal mixing by Feb '22","Medium step, normal mixing by Sept '21","Large step, normal mixing by Oct '21","Largest step, normal mixing by Dec '21"], "range": ["#5c0080","#a60000","#2b2b99","#007a00","#00807a","#9a6a00","#990099"]}, "legend": null}}}
          ]}
        ],
        "resolve": {"scale": {"y": "independent"}}
      },
      {"width": 46, "height": 158, "view": {"stroke": null}, "data": {"values": []}, "mark": "point"},
      {
        "width": 126, "height": 158,
        "layer": [
          {"data": {"name": "wt"}, "layer": [
            {"mark": {"type": "area", "color": "#f4f4f4", "clip": true}, "encoding": {"x": {"field": "t", "type": "temporal", "scale": {"domain": [{"year":2021,"month":5,"date":17},{"year":2022,"month":9,"date":25}]}, "axis": {"values": [{"year":2021,"month":6,"date":1},{"year":2021,"month":12,"date":1},{"year":2022,"month":6,"date":1}], "tickCount": 30, "labelExpr": "month(datum.value) == 11 ? 'Dec' : timeFormat(datum.value, \"%b'%y\")", "title": null, "tickSize": -3, "labelPadding": 9, "labelFlush": false, "labelBound": false, "labelOverlap": false}}, "y": {"field": "w", "type": "quantitative", "title": null, "scale": {"domain": [0, 1.25], "nice": false}, "axis": {"orient": "right", "values": [0,0.25,0.5,0.75,1], "tickCount": 30, "labels": false, "tickSize": -3, "labelOverlap": false}}, "order": {"field": "k", "type": "quantitative"}}},
            {"mark": {"type": "line", "color": "#6e6e6e", "strokeWidth": 0.8, "clip": true}, "encoding": {"x": {"field": "t", "type": "temporal"}, "y": {"field": "w", "type": "quantitative", "title": null}, "order": {"field": "k", "type": "quantitative"}}}
          ]},
          {"data": {"name": "ts"}, "transform": [{"filter": "datum.p == 3"}], "layer": [
            {"mark": {"type": "area", "opacity": 0.16, "interpolate": "monotone", "clip": true}, "encoding": {"x": {"field": "t", "type": "temporal"}, "y": {"field": "sh", "type": "quantitative", "title": null, "scale": {"domain": [0, 2500], "nice": false}, "axis": {"orient": "left", "values": [0,500,1000,1500,2000,2500], "tickCount": 30, "labels": false, "tickSize": -3, "labelOverlap": false}}, "y2": {"field": "sl"}, "color": {"datum": "Small step, normal mixing by Dec '21", "type": "nominal", "scale": {"domain": ["Small step, normal mixing by Aug '21","Small step, normal mixing by Oct '21","Small step, normal mixing by Dec '21","Small step, normal mixing by Feb '22","Medium step, normal mixing by Sept '21","Large step, normal mixing by Oct '21","Largest step, normal mixing by Dec '21"], "range": ["#9900cc","#ff0000","#4d4dff","#00cc00","#00e6cc","#ffb000","#ff00ff"]}, "legend": null}}},
            {"mark": {"type": "area", "opacity": 0.16, "interpolate": "monotone", "clip": true}, "encoding": {"x": {"field": "t", "type": "temporal"}, "y": {"field": "dh", "type": "quantitative", "title": null}, "y2": {"field": "dl"}, "color": {"datum": "Small step, normal mixing by Dec '21", "type": "nominal", "legend": null}}},
            {"mark": {"type": "line", "strokeWidth": 1.6, "interpolate": "monotone", "clip": true}, "encoding": {"x": {"field": "t", "type": "temporal"}, "y": {"field": "s", "type": "quantitative", "title": null}, "color": {"datum": "Small step, normal mixing by Dec '21", "type": "nominal", "legend": null}}},
            {"mark": {"type": "line", "strokeWidth": 1.4, "strokeDash": [4, 3], "interpolate": "monotone", "clip": true}, "encoding": {"x": {"field": "t", "type": "temporal"}, "y": {"field": "d", "type": "quantitative", "title": null}, "stroke": {"datum": "Small step, normal mixing by Dec '21", "type": "nominal", "scale": {"domain": ["Small step, normal mixing by Aug '21","Small step, normal mixing by Oct '21","Small step, normal mixing by Dec '21","Small step, normal mixing by Feb '22","Medium step, normal mixing by Sept '21","Large step, normal mixing by Oct '21","Largest step, normal mixing by Dec '21"], "range": ["#5c0080","#a60000","#2b2b99","#007a00","#00807a","#9a6a00","#990099"]}, "legend": null}}}
          ]}
        ],
        "resolve": {"scale": {"y": "independent"}}
      },
      {"width": 47, "height": 158, "view": {"stroke": null}, "data": {"values": []}, "mark": "point"},
      {
        "width": 126, "height": 158,
        "layer": [
          {"data": {"name": "wt"}, "layer": [
            {"mark": {"type": "area", "color": "#f4f4f4", "clip": true}, "encoding": {"x": {"field": "t", "type": "temporal", "scale": {"domain": [{"year":2021,"month":5,"date":17},{"year":2022,"month":9,"date":25}]}, "axis": {"values": [{"year":2021,"month":6,"date":1},{"year":2021,"month":12,"date":1},{"year":2022,"month":6,"date":1}], "tickCount": 30, "labelExpr": "month(datum.value) == 11 ? 'Dec' : timeFormat(datum.value, \"%b'%y\")", "title": null, "tickSize": -3, "labelPadding": 9, "labelFlush": false, "labelBound": false, "labelOverlap": false}}, "y": {"field": "w", "type": "quantitative", "title": null, "scale": {"domain": [0, 1.25], "nice": false}, "axis": {"orient": "right", "values": [0,0.25,0.5,0.75,1], "tickCount": 30, "labels": false, "tickSize": -3, "labelOverlap": false}}, "order": {"field": "k", "type": "quantitative"}}},
            {"mark": {"type": "line", "color": "#6e6e6e", "strokeWidth": 0.8, "clip": true}, "encoding": {"x": {"field": "t", "type": "temporal"}, "y": {"field": "w", "type": "quantitative", "title": null}, "order": {"field": "k", "type": "quantitative"}}}
          ]},
          {"data": {"name": "ts"}, "transform": [{"filter": "datum.p == 4"}], "layer": [
            {"mark": {"type": "area", "opacity": 0.16, "interpolate": "monotone", "clip": true}, "encoding": {"x": {"field": "t", "type": "temporal"}, "y": {"field": "sh", "type": "quantitative", "title": null, "scale": {"domain": [0, 2500], "nice": false}, "axis": {"orient": "left", "values": [0,500,1000,1500,2000,2500], "tickCount": 30, "labels": false, "tickSize": -3, "labelOverlap": false}}, "y2": {"field": "sl"}, "color": {"datum": "Small step, normal mixing by Feb '22", "type": "nominal", "scale": {"domain": ["Small step, normal mixing by Aug '21","Small step, normal mixing by Oct '21","Small step, normal mixing by Dec '21","Small step, normal mixing by Feb '22","Medium step, normal mixing by Sept '21","Large step, normal mixing by Oct '21","Largest step, normal mixing by Dec '21"], "range": ["#9900cc","#ff0000","#4d4dff","#00cc00","#00e6cc","#ffb000","#ff00ff"]}, "legend": null}}},
            {"mark": {"type": "area", "opacity": 0.16, "interpolate": "monotone", "clip": true}, "encoding": {"x": {"field": "t", "type": "temporal"}, "y": {"field": "dh", "type": "quantitative", "title": null}, "y2": {"field": "dl"}, "color": {"datum": "Small step, normal mixing by Feb '22", "type": "nominal", "legend": null}}},
            {"mark": {"type": "line", "strokeWidth": 1.6, "interpolate": "monotone", "clip": true}, "encoding": {"x": {"field": "t", "type": "temporal"}, "y": {"field": "s", "type": "quantitative", "title": null}, "color": {"datum": "Small step, normal mixing by Feb '22", "type": "nominal", "legend": null}}},
            {"mark": {"type": "line", "strokeWidth": 1.4, "strokeDash": [4, 3], "interpolate": "monotone", "clip": true}, "encoding": {"x": {"field": "t", "type": "temporal"}, "y": {"field": "d", "type": "quantitative", "title": null}, "stroke": {"datum": "Small step, normal mixing by Feb '22", "type": "nominal", "scale": {"domain": ["Small step, normal mixing by Aug '21","Small step, normal mixing by Oct '21","Small step, normal mixing by Dec '21","Small step, normal mixing by Feb '22","Medium step, normal mixing by Sept '21","Large step, normal mixing by Oct '21","Largest step, normal mixing by Dec '21"], "range": ["#5c0080","#a60000","#2b2b99","#007a00","#00807a","#9a6a00","#990099"]}, "legend": null}}}
          ]}
        ],
        "resolve": {"scale": {"y": "independent"}}
      },
      {"width": 46, "height": 158, "view": {"stroke": null}, "data": {"values": []}, "mark": "point"},
      {
        "width": 126, "height": 158,
        "layer": [
          {"data": {"name": "wt"}, "layer": [
            {"mark": {"type": "area", "color": "#f4f4f4", "clip": true}, "encoding": {"x": {"field": "t", "type": "temporal", "scale": {"domain": [{"year":2021,"month":5,"date":17},{"year":2022,"month":9,"date":25}]}, "axis": {"values": [{"year":2021,"month":6,"date":1},{"year":2021,"month":12,"date":1},{"year":2022,"month":6,"date":1}], "tickCount": 30, "labelExpr": "month(datum.value) == 11 ? 'Dec' : timeFormat(datum.value, \"%b'%y\")", "title": null, "tickSize": -3, "labelPadding": 9, "labelFlush": false, "labelBound": false, "labelOverlap": false}}, "y": {"field": "w", "type": "quantitative", "title": null, "scale": {"domain": [0, 1.25], "nice": false}, "axis": {"orient": "right", "values": [0,0.25,0.5,0.75,1], "tickCount": 30, "labels": false, "tickSize": -3, "labelOverlap": false}}, "order": {"field": "k", "type": "quantitative"}}},
            {"mark": {"type": "line", "color": "#6e6e6e", "strokeWidth": 0.8, "clip": true}, "encoding": {"x": {"field": "t", "type": "temporal"}, "y": {"field": "w", "type": "quantitative", "title": null}, "order": {"field": "k", "type": "quantitative"}}}
          ]},
          {"data": {"name": "ts"}, "transform": [{"filter": "datum.p == 5"}], "layer": [
            {"mark": {"type": "area", "opacity": 0.16, "interpolate": "monotone", "clip": true}, "encoding": {"x": {"field": "t", "type": "temporal"}, "y": {"field": "sh", "type": "quantitative", "title": null, "scale": {"domain": [0, 2500], "nice": false}, "axis": {"orient": "left", "values": [0,500,1000,1500,2000,2500], "tickCount": 30, "labels": false, "tickSize": -3, "labelOverlap": false}}, "y2": {"field": "sl"}, "color": {"datum": "Medium step, normal mixing by Sept '21", "type": "nominal", "scale": {"domain": ["Small step, normal mixing by Aug '21","Small step, normal mixing by Oct '21","Small step, normal mixing by Dec '21","Small step, normal mixing by Feb '22","Medium step, normal mixing by Sept '21","Large step, normal mixing by Oct '21","Largest step, normal mixing by Dec '21"], "range": ["#9900cc","#ff0000","#4d4dff","#00cc00","#00e6cc","#ffb000","#ff00ff"]}, "legend": null}}},
            {"mark": {"type": "area", "opacity": 0.16, "interpolate": "monotone", "clip": true}, "encoding": {"x": {"field": "t", "type": "temporal"}, "y": {"field": "dh", "type": "quantitative", "title": null}, "y2": {"field": "dl"}, "color": {"datum": "Medium step, normal mixing by Sept '21", "type": "nominal", "legend": null}}},
            {"mark": {"type": "line", "strokeWidth": 1.6, "interpolate": "monotone", "clip": true}, "encoding": {"x": {"field": "t", "type": "temporal"}, "y": {"field": "s", "type": "quantitative", "title": null}, "color": {"datum": "Medium step, normal mixing by Sept '21", "type": "nominal", "legend": null}}},
            {"mark": {"type": "line", "strokeWidth": 1.4, "strokeDash": [4, 3], "interpolate": "monotone", "clip": true}, "encoding": {"x": {"field": "t", "type": "temporal"}, "y": {"field": "d", "type": "quantitative", "title": null}, "stroke": {"datum": "Medium step, normal mixing by Sept '21", "type": "nominal", "scale": {"domain": ["Small step, normal mixing by Aug '21","Small step, normal mixing by Oct '21","Small step, normal mixing by Dec '21","Small step, normal mixing by Feb '22","Medium step, normal mixing by Sept '21","Large step, normal mixing by Oct '21","Largest step, normal mixing by Dec '21"], "range": ["#5c0080","#a60000","#2b2b99","#007a00","#00807a","#9a6a00","#990099"]}, "legend": null}}}
          ]}
        ],
        "resolve": {"scale": {"y": "independent"}}
      },
      {"width": 46, "height": 158, "view": {"stroke": null}, "data": {"values": []}, "mark": "point"},
      {
        "width": 126, "height": 158,
        "layer": [
          {"data": {"name": "wt"}, "layer": [
            {"mark": {"type": "area", "color": "#f4f4f4", "clip": true}, "encoding": {"x": {"field": "t", "type": "temporal", "scale": {"domain": [{"year":2021,"month":5,"date":17},{"year":2022,"month":9,"date":25}]}, "axis": {"values": [{"year":2021,"month":6,"date":1},{"year":2021,"month":12,"date":1},{"year":2022,"month":6,"date":1}], "tickCount": 30, "labelExpr": "month(datum.value) == 11 ? 'Dec' : timeFormat(datum.value, \"%b'%y\")", "title": null, "tickSize": -3, "labelPadding": 9, "labelFlush": false, "labelBound": false, "labelOverlap": false}}, "y": {"field": "w", "type": "quantitative", "title": null, "scale": {"domain": [0, 1.25], "nice": false}, "axis": {"orient": "right", "values": [0,0.25,0.5,0.75,1], "tickCount": 30, "labels": false, "tickSize": -3, "labelOverlap": false}}, "order": {"field": "k", "type": "quantitative"}}},
            {"mark": {"type": "line", "color": "#6e6e6e", "strokeWidth": 0.8, "clip": true}, "encoding": {"x": {"field": "t", "type": "temporal"}, "y": {"field": "w", "type": "quantitative", "title": null}, "order": {"field": "k", "type": "quantitative"}}}
          ]},
          {"data": {"name": "ts"}, "transform": [{"filter": "datum.p == 6"}], "layer": [
            {"mark": {"type": "area", "opacity": 0.16, "interpolate": "monotone", "clip": true}, "encoding": {"x": {"field": "t", "type": "temporal"}, "y": {"field": "sh", "type": "quantitative", "title": null, "scale": {"domain": [0, 2500], "nice": false}, "axis": {"orient": "left", "values": [0,500,1000,1500,2000,2500], "tickCount": 30, "labels": false, "tickSize": -3, "labelOverlap": false}}, "y2": {"field": "sl"}, "color": {"datum": "Large step, normal mixing by Oct '21", "type": "nominal", "scale": {"domain": ["Small step, normal mixing by Aug '21","Small step, normal mixing by Oct '21","Small step, normal mixing by Dec '21","Small step, normal mixing by Feb '22","Medium step, normal mixing by Sept '21","Large step, normal mixing by Oct '21","Largest step, normal mixing by Dec '21"], "range": ["#9900cc","#ff0000","#4d4dff","#00cc00","#00e6cc","#ffb000","#ff00ff"]}, "legend": null}}},
            {"mark": {"type": "area", "opacity": 0.16, "interpolate": "monotone", "clip": true}, "encoding": {"x": {"field": "t", "type": "temporal"}, "y": {"field": "dh", "type": "quantitative", "title": null}, "y2": {"field": "dl"}, "color": {"datum": "Large step, normal mixing by Oct '21", "type": "nominal", "legend": null}}},
            {"mark": {"type": "line", "strokeWidth": 1.6, "interpolate": "monotone", "clip": true}, "encoding": {"x": {"field": "t", "type": "temporal"}, "y": {"field": "s", "type": "quantitative", "title": null}, "color": {"datum": "Large step, normal mixing by Oct '21", "type": "nominal", "legend": null}}},
            {"mark": {"type": "line", "strokeWidth": 1.4, "strokeDash": [4, 3], "interpolate": "monotone", "clip": true}, "encoding": {"x": {"field": "t", "type": "temporal"}, "y": {"field": "d", "type": "quantitative", "title": null}, "stroke": {"datum": "Large step, normal mixing by Oct '21", "type": "nominal", "scale": {"domain": ["Small step, normal mixing by Aug '21","Small step, normal mixing by Oct '21","Small step, normal mixing by Dec '21","Small step, normal mixing by Feb '22","Medium step, normal mixing by Sept '21","Large step, normal mixing by Oct '21","Largest step, normal mixing by Dec '21"], "range": ["#5c0080","#a60000","#2b2b99","#007a00","#00807a","#9a6a00","#990099"]}, "legend": null}}}
          ]}
        ],
        "resolve": {"scale": {"y": "independent"}}
      },
      {"width": 47, "height": 158, "view": {"stroke": null}, "data": {"values": []}, "mark": "point"},
      {
        "width": 126, "height": 158,
        "layer": [
          {"data": {"name": "wt"}, "layer": [
            {"mark": {"type": "area", "color": "#f4f4f4", "clip": true}, "encoding": {"x": {"field": "t", "type": "temporal", "scale": {"domain": [{"year":2021,"month":5,"date":17},{"year":2022,"month":9,"date":25}]}, "axis": {"values": [{"year":2021,"month":6,"date":1},{"year":2021,"month":12,"date":1},{"year":2022,"month":6,"date":1}], "tickCount": 30, "labelExpr": "month(datum.value) == 11 ? 'Dec' : timeFormat(datum.value, \"%b'%y\")", "title": null, "tickSize": -3, "labelPadding": 9, "labelFlush": false, "labelBound": false, "labelOverlap": false}}, "y": {"field": "w", "type": "quantitative", "title": "Temporal weighting", "scale": {"domain": [0, 1.25], "nice": false}, "axis": {"orient": "right", "values": [0,0.25,0.5,0.75,1], "tickCount": 30, "labels": true, "format": ".2f", "labelExpr": "datum.value == 0 ? '0' : format(datum.value, '.2f')", "labelOverlap": false, "tickSize": -3, "labelPadding": 8, "titlePadding": 4, "titleAngle": 270, "titleBaseline": "top"}}, "order": {"field": "k", "type": "quantitative"}}},
            {"mark": {"type": "line", "color": "#6e6e6e", "strokeWidth": 0.8, "clip": true}, "encoding": {"x": {"field": "t", "type": "temporal"}, "y": {"field": "w", "type": "quantitative", "title": "Temporal weighting"}, "order": {"field": "k", "type": "quantitative"}}}
          ]},
          {"data": {"name": "ts"}, "transform": [{"filter": "datum.p == 7"}], "layer": [
            {"mark": {"type": "area", "opacity": 0.16, "interpolate": "monotone", "clip": true}, "encoding": {"x": {"field": "t", "type": "temporal"}, "y": {"field": "sh", "type": "quantitative", "title": null, "scale": {"domain": [0, 2500], "nice": false}, "axis": {"orient": "left", "values": [0,500,1000,1500,2000,2500], "tickCount": 30, "labels": false, "tickSize": -3, "labelOverlap": false}}, "y2": {"field": "sl"}, "color": {"datum": "Largest step, normal mixing by Dec '21", "type": "nominal", "scale": {"domain": ["Small step, normal mixing by Aug '21","Small step, normal mixing by Oct '21","Small step, normal mixing by Dec '21","Small step, normal mixing by Feb '22","Medium step, normal mixing by Sept '21","Large step, normal mixing by Oct '21","Largest step, normal mixing by Dec '21"], "range": ["#9900cc","#ff0000","#4d4dff","#00cc00","#00e6cc","#ffb000","#ff00ff"]}, "legend": null}}},
            {"mark": {"type": "area", "opacity": 0.16, "interpolate": "monotone", "clip": true}, "encoding": {"x": {"field": "t", "type": "temporal"}, "y": {"field": "dh", "type": "quantitative", "title": null}, "y2": {"field": "dl"}, "color": {"datum": "Largest step, normal mixing by Dec '21", "type": "nominal", "legend": null}}},
            {"mark": {"type": "line", "strokeWidth": 1.6, "interpolate": "monotone", "clip": true}, "encoding": {"x": {"field": "t", "type": "temporal"}, "y": {"field": "s", "type": "quantitative", "title": null}, "color": {"datum": "Largest step, normal mixing by Dec '21", "type": "nominal", "legend": null}}},
            {"mark": {"type": "line", "strokeWidth": 1.4, "strokeDash": [4, 3], "interpolate": "monotone", "clip": true}, "encoding": {"x": {"field": "t", "type": "temporal"}, "y": {"field": "d", "type": "quantitative", "title": null}, "stroke": {"datum": "Largest step, normal mixing by Dec '21", "type": "nominal", "scale": {"domain": ["Small step, normal mixing by Aug '21","Small step, normal mixing by Oct '21","Small step, normal mixing by Dec '21","Small step, normal mixing by Feb '22","Medium step, normal mixing by Sept '21","Large step, normal mixing by Oct '21","Largest step, normal mixing by Dec '21"], "range": ["#5c0080","#a60000","#2b2b99","#007a00","#00807a","#9a6a00","#990099"]}, "legend": null}}}
          ]}
        ],
        "resolve": {"scale": {"y": "independent"}}
      }
    ]
  },
  {"width": 1, "height": 13, "view": {"stroke": null}, "data": {"values": []}, "mark": "point"},
  {
    "width": 1240, "height": 185.5, "view": {"stroke": null},
    "data": {"name": "cap"},
    "encoding": {
      "y": {"field": "line", "type": "ordinal", "axis": null, "scale": {"paddingInner": 0, "paddingOuter": 0}},
      "x": {"datum": 0, "type": "quantitative", "scale": {"domain": [0.0202, 1]}, "axis": null},
      "text": {"field": "t"}
    },
    "layer": [
      {"transform": [{"filter": {"field": "part", "equal": "f"}}], "mark": {"type": "text", "align": "left", "font": "Lato", "fontSize": 19.4, "fontWeight": "bold", "color": "#231f20"}},
      {"transform": [{"filter": {"field": "part", "equal": "b1"}}], "mark": {"type": "text", "align": "left", "font": "Lato", "fontSize": 19.4, "color": "#231f20", "dx": 57}},
      {"transform": [{"filter": {"field": "part", "equal": "b"}}], "mark": {"type": "text", "align": "left", "font": "Lato", "fontSize": 19.4, "color": "#231f20"}},
      {"transform": [{"filter": {"field": "part", "equal": "r"}}], "mark": {"type": "text", "align": "left", "font": "Lato", "fontSize": 19.4, "color": "#2f2ff5", "dx": 1077}},
      {"transform": [{"filter": {"field": "part", "equal": "c"}}], "mark": {"type": "text", "align": "left", "font": "Lato", "fontSize": 19.4, "color": "#231f20", "dx": 1099}}
    ]
  }
]
}
